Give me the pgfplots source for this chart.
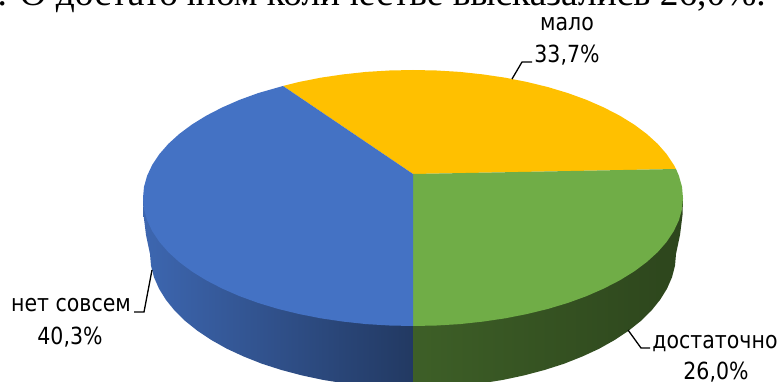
\documentclass[border=0pt]{standalone}
\usepackage{graphicx}
\usepackage{pgfplots}
\usepackage{fontspec}
\setmainfont{DejaVu Sans}
\newfontfamily\serif{Liberation Serif}
\pgfplotsset{compat=1.18}
\definecolor{cblue}{HTML}{4472C4}
\definecolor{cgreen}{HTML}{70AD47}
\definecolor{cyellow}{HTML}{FFC000}
\begin{document}
\begin{tikzpicture}[x=1pt,y=1pt]
\useasboundingbox (0,0) rectangle (781,382);
\clip (0,0) rectangle (781,382);
\begin{axis}[at={(0,0)},anchor=south west,width=781pt,height=382pt,scale only axis,
  xmin=0,xmax=781,ymin=0,ymax=382,y dir=reverse,hide axis,clip=true]
% side faces
\addplot[draw=none,left color=cblue!90!black,middle color=cblue!78!black,right color=cblue!50!black] coordinates {
(143,198)(143.5,215)(146,235)(150,254)(151,265.7)(154,277.3)(159,288.7)(165.9,299.8)(174.6,310.6)(185.2,321)(197.6,330.9)(211.5,340.1)(227,348.8)(243.9,356.6)(262.1,363.8)(281.5,370)(301.9,375.4)(323,379.9)(344.9,383.4)(367.3,386)(390,387.5)(413,388)(413,300)};
\addplot[draw=none,left color=cgreen!55!black,middle color=cgreen!40!black,right color=cgreen!40!black] coordinates {
(413,300)(413,388)(436,387.5)(458.7,386)(481.1,383.4)(503,379.9)(524.1,375.4)(544.5,370)(563.9,363.8)(582.1,356.6)(599,348.8)(614.5,340.1)(628.4,330.9)(640.8,321)(651.4,310.6)(660.1,299.8)(667,288.7)(672,277.3)(675,265.7)(676,254)(680,235)(682.5,215)(683,198)};
% top faces
\addplot[draw=none,fill=cyellow] coordinates {
(413,174)(283,86)(298.9,82)(320.7,77.7)(343.1,74.4)(366.1,71.9)(389.5,70.5)(413,70)(436.5,70.5)(459.9,71.9)(482.9,74.4)(505.3,77.7)(527.1,82)(548,87.1)(567.9,93.1)(586.6,99.9)(603.9,107.5)(619.8,115.7)(634.2,124.6)(646.8,134)(657.7,143.9)(666.7,154.2)(673.8,164.9)(676,169)};
\addplot[draw=none,fill=cgreen] coordinates {
(413,174)(676,169)(678.9,175.8)(682,186.8)(683,198)(682,209.2)(678.9,220.2)(673.8,231.1)(666.7,241.8)(657.7,252.1)(646.8,262)(634.2,271.4)(619.8,280.3)(603.9,288.5)(586.6,296.1)(567.9,302.9)(548,308.9)(527.1,314)(505.3,318.3)(482.9,321.6)(459.9,324.1)(436.5,325.5)(413,326)};
\addplot[draw=none,fill=cblue] coordinates {
(413,174)(413,326)(389.5,325.5)(366.1,324.1)(343.1,321.6)(320.7,318.3)(298.9,314)(278,308.9)(258.1,302.9)(239.4,296.1)(222.1,288.5)(206.2,280.3)(191.8,271.4)(179.2,262)(168.3,252.1)(159.3,241.8)(152.2,231.1)(147.1,220.2)(144,209.2)(143,198)(144,186.8)(147.1,175.8)(152.2,164.9)(159.3,154.2)(168.3,143.9)(179.2,134)(191.8,124.6)(206.2,115.7)(222.1,107.5)(239.4,99.9)(258.1,93.1)(283,86)};
% leader lines
\addplot[black,line width=1.3pt] coordinates {(512,79)(522,62)(532,62)};
\addplot[black,line width=1.3pt] coordinates {(152,270)(144,312)(134,312)};
\addplot[black,line width=1.3pt] coordinates {(628,330)(641,348)(650,348)};
\end{axis}
\node[anchor=base west,inner sep=0,font=\serif\fontsize{37.4}{38}\selectfont] at (-2.5,376.5) {. О достаточном количестве высказались 26,0\%.};
\def\lab#1#2#3{\node[inner sep=0,font=\fontsize{20.5}{20}\selectfont] at (#1,#2) {\scalebox{1}[1.15]{#3}};}
\lab{567}{358}{мало}
\lab{567}{327}{33,7\%}
\lab{71}{77}{нет совсем}
\lab{70}{45}{40,3\%}
\lab{715}{38}{достаточно}
\lab{716}{10}{26,0\%}
\end{tikzpicture}
\end{document}
